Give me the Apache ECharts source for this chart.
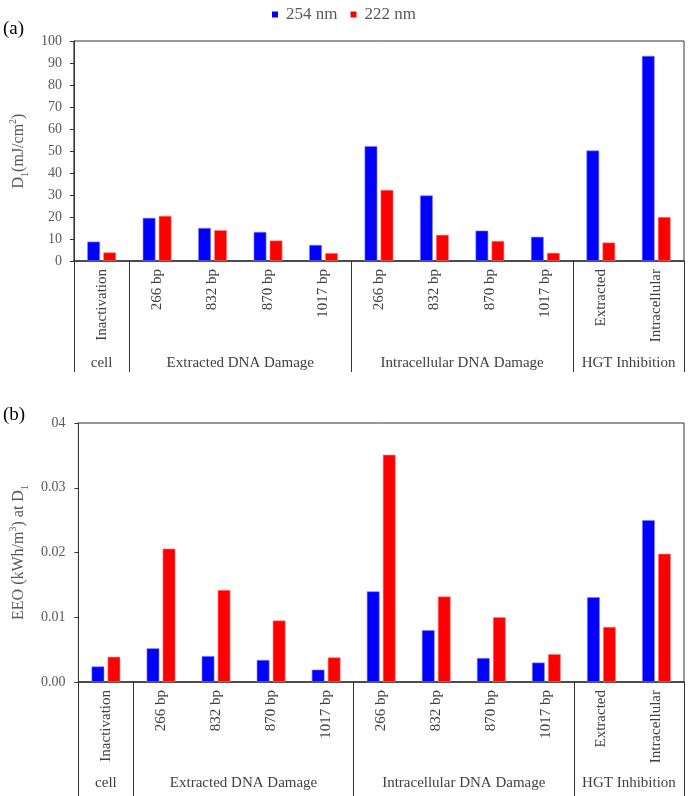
<!DOCTYPE html>
<html>
<head>
<meta charset="utf-8">
<script src="https://cdn.jsdelivr.net/npm/echarts@6/dist/echarts.min.js"></script>
<style>
html,body{margin:0;padding:0;background:#fff;}
#chart{width:688px;height:796px;}
</style>
</head>
<body>
<div id="chart"></div>
<script>
// ---- data ----
var categories = ['Inactivation','266 bp','832 bp','870 bp','1017 bp','266 bp','832 bp','870 bp','1017 bp','Extracted','Intracellular'];
var groupNames = ['cell','Extracted DNA Damage','Intracellular DNA Damage','HGT Inhibition'];
var groupSizes = [1, 4, 4, 2];
var seriesNames = ['254 nm', '222 nm'];
var d1_254 = [8.8, 19.6, 15.0, 13.2, 7.3, 52.2, 29.8, 13.8, 11.0, 50.2, 93.2];
var d1_222 = [3.9, 20.5, 14.0, 9.3, 3.6, 32.3, 11.9, 9.1, 3.7, 8.4, 20.0];
var eeo_254 = [0.0024, 0.0052, 0.0040, 0.0034, 0.0019, 0.0140, 0.0080, 0.0037, 0.0030, 0.0131, 0.0250];
var eeo_222 = [0.0039, 0.0206, 0.0142, 0.0095, 0.0038, 0.0351, 0.0132, 0.0100, 0.0043, 0.0085, 0.0198];
var eeoTickLabels = ['0.00','0.01','0.02','0.03','04'];

// ---- build half-slot group axis (boundaryGap false, 2*N+1 points) ----
var nSlots = categories.length;
var groupAxisData = [];
for (var i = 0; i <= nSlots * 2; i++) groupAxisData.push('');
var sepIdx = [0];
var start = 0;
for (var g = 0; g < groupNames.length; g++) {
  var centerHalf = start * 2 + groupSizes[g];
  groupAxisData[centerHalf] = groupNames[g];
  start += groupSizes[g];
  sepIdx.push(start * 2);
}

var FONT = "'Liberation Serif', 'Times New Roman', serif";
var AX = '#333333';
var TICKC = '#595959';
var LABC = '#404040';

function catAxis(gridIndex) {
  return {
    type: 'category', gridIndex: gridIndex, data: categories, boundaryGap: true,
    axisLine: { show: true, lineStyle: { color: AX, width: 1.5 } },
    axisTick: { show: false },
    axisLabel: { rotate: 90, interval: 0, margin: 8, fontFamily: FONT, fontSize: 15, color: LABC },
    splitLine: { show: false }
  };
}
function groupAxis(gridIndex, tickLen, labelMargin) {
  return {
    type: 'category', gridIndex: gridIndex, data: groupAxisData, boundaryGap: false,
    position: 'bottom',
    axisLine: { show: false },
    axisTick: { show: true, length: tickLen, lineStyle: { color: AX, width: 1 },
      interval: function (idx) { return sepIdx.indexOf(idx) >= 0; } },
    axisLabel: { interval: 0, margin: labelMargin, fontFamily: FONT, fontSize: 15, color: LABC },
    splitLine: { show: false }
  };
}
var nameRich = {
  n: { fontFamily: FONT, fontSize: 16, color: TICKC, lineHeight: 22 },
  s: { fontFamily: FONT, fontSize: 10, color: TICKC, lineHeight: 10, verticalAlign: 'bottom' },
  p: { fontFamily: FONT, fontSize: 10, color: TICKC, lineHeight: 10, verticalAlign: 'top' }
};

function bar(name, data, xi, yi, color, border) {
  return {
    name: name, type: 'bar', xAxisIndex: xi, yAxisIndex: yi, data: data,
    barWidth: 12.7, barGap: '26%',
    itemStyle: { color: color, borderColor: border, borderWidth: 0.6 },
    emphasis: { disabled: true }
  };
}

var chart = echarts.init(document.getElementById('chart'), null, { renderer: 'canvas' });
chart.setOption({
  animation: false,
  backgroundColor: '#ffffff',
  legend: {
    data: seriesNames, top: 1, left: 'center',
    icon: 'rect', itemWidth: 6, itemHeight: 6, itemGap: 13,
    itemStyle: { borderWidth: 0 },
    textStyle: { fontFamily: FONT, fontSize: 17, color: TICKC, padding: [0, 0, 0, 3] }
  },
  graphic: [
    { type: 'text', left: 3, top: 20, style: { text: '(a)', font: '19px ' + FONT, fill: '#000' } },
    { type: 'text', left: 3, top: 406, style: { text: '(b)', font: '19px ' + FONT, fill: '#000' } }
  ],
  grid: [
    { left: 63, top: 41, width: 621, height: 220, show: true, borderColor: AX, borderWidth: 1, containLabel: false },
    { left: 66, top: 423, width: 618, height: 259, show: true, borderColor: AX, borderWidth: 1, containLabel: false }
  ],
  xAxis: [
    catAxis(0),
    groupAxis(0, 111, 95),
    catAxis(1),
    groupAxis(1, 116, 94)
  ],
  yAxis: [
    {
      type: 'value', gridIndex: 0, min: 0, max: 100, interval: 10,
      axisLine: { show: true, lineStyle: { color: AX, width: 1 } },
      axisTick: { show: true, length: 4, lineStyle: { color: AX } },
      axisLabel: { fontFamily: FONT, fontSize: 14, color: TICKC, margin: 12 },
      splitLine: { show: false },
      name: '{n|D}{s|1}{n|(mJ/cm}{p|2}{n|)}', nameLocation: 'middle', nameGap: 38,
      nameTextStyle: { rich: nameRich }
    },
    {
      type: 'value', gridIndex: 1, min: 0, max: 0.04, interval: 0.01,
      axisLine: { show: true, lineStyle: { color: AX, width: 1 } },
      axisTick: { show: true, length: 4, lineStyle: { color: AX } },
      axisLabel: { fontFamily: FONT, fontSize: 14, color: TICKC, margin: 13,
        formatter: function (v) { return eeoTickLabels[Math.round(v / 0.01)]; } },
      splitLine: { show: false },
      name: '{n|EEO (kWh/m}{p|3}{n|) at D}{s|1}', nameLocation: 'middle', nameGap: 42,
      nameTextStyle: { rich: nameRich }
    }
  ],
  series: [
    bar(seriesNames[0], d1_254, 0, 0, '#0000FF', '#8080ff'),
    bar(seriesNames[1], d1_222, 0, 0, '#FF0000', '#ff8080'),
    bar(seriesNames[0], eeo_254, 2, 1, '#0000FF', '#8080ff'),
    bar(seriesNames[1], eeo_222, 2, 1, '#FF0000', '#ff8080')
  ]
});
</script>
</body>
</html>
